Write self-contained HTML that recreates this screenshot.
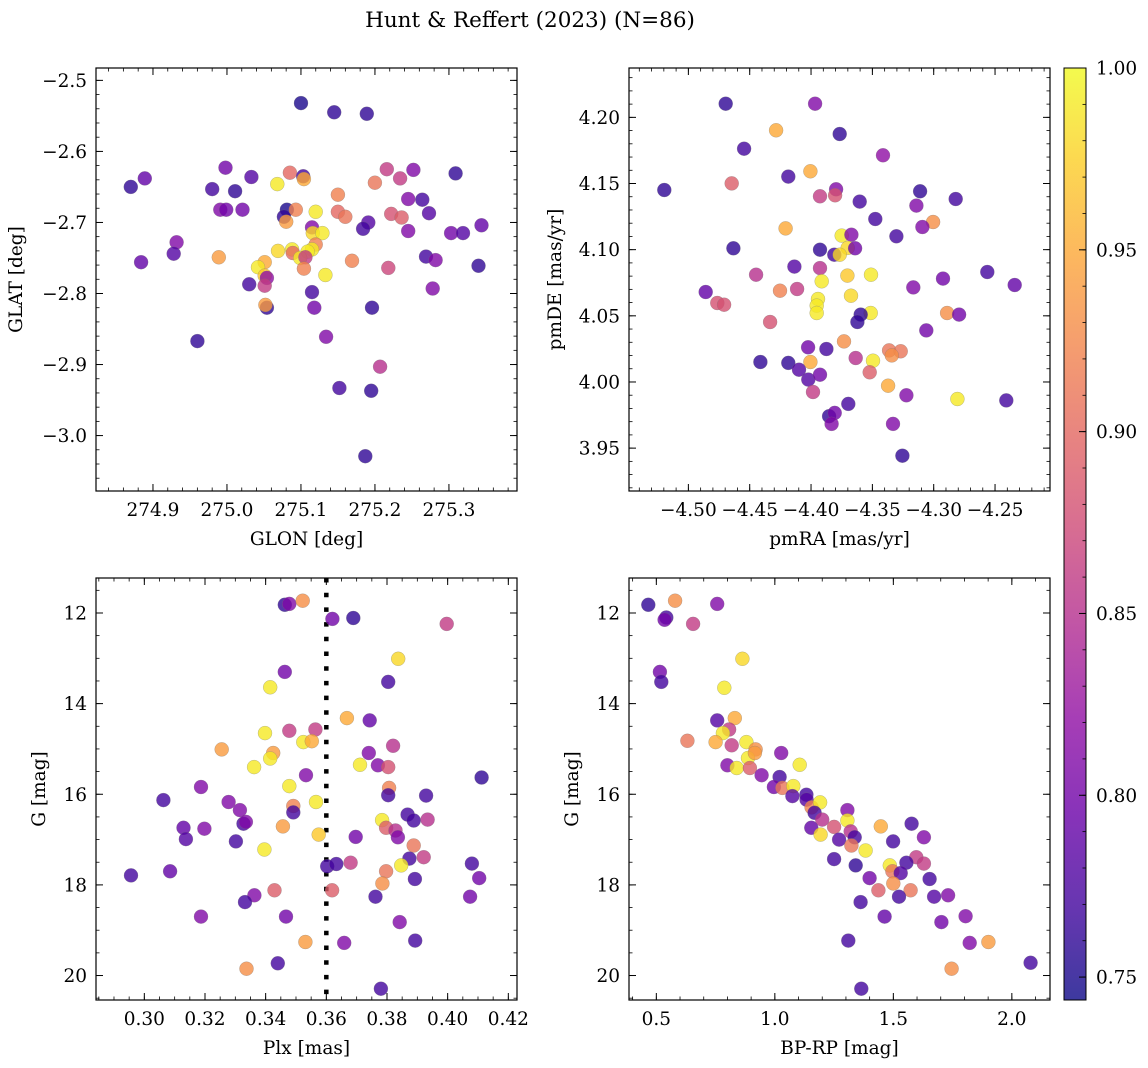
<!DOCTYPE html>
<html><head><meta charset="utf-8"><style>
html,body{margin:0;padding:0;background:#fff;}
svg{display:block;font-family:"DejaVu Serif","Liberation Serif",serif;}
</style></head><body>
<svg id="fig" width="1148" height="1068" viewBox="0 0 1148 1068" xmlns="http://www.w3.org/2000/svg">
<text x="530" y="27" font-size="21.5" text-anchor="middle">Hunt &amp; Reffert (2023) (N=86)</text>
</svg>
<script>
// ---- Panel 1: GLON / GLAT ----
const p1Glon=[275.100,275.145,275.189,274.870,274.889,274.998,274.980,275.011,275.033,274.991,274.999,275.021,275.068,275.085,275.103,275.104,275.081,275.077,275.093,275.080,275.120,275.150,275.150,275.160,275.200,275.216,275.234,275.252,275.309,275.245,275.264,275.273,275.222,275.236,275.191,275.184,275.245,275.303,275.319,275.344,275.115,275.116,275.129,275.120,275.115,275.109,275.069,275.088,275.089,275.099,275.106,275.104,275.169,275.133,275.218,275.269,275.282,275.340,275.278,274.932,274.928,274.884,274.989,275.051,275.042,275.051,275.054,275.051,275.030,275.054,275.052,275.115,275.118,275.196,275.134,275.207,274.960,275.152,275.195,275.187];
const p1Glat=[-2.532,-2.545,-2.547,-2.650,-2.638,-2.623,-2.653,-2.656,-2.636,-2.682,-2.682,-2.682,-2.646,-2.630,-2.635,-2.639,-2.682,-2.692,-2.682,-2.699,-2.685,-2.661,-2.685,-2.692,-2.644,-2.625,-2.638,-2.626,-2.631,-2.667,-2.668,-2.687,-2.688,-2.693,-2.700,-2.709,-2.712,-2.715,-2.715,-2.704,-2.707,-2.715,-2.715,-2.731,-2.738,-2.741,-2.740,-2.738,-2.743,-2.750,-2.749,-2.765,-2.754,-2.774,-2.764,-2.748,-2.753,-2.761,-2.793,-2.728,-2.744,-2.756,-2.749,-2.756,-2.763,-2.775,-2.778,-2.789,-2.787,-2.820,-2.816,-2.798,-2.820,-2.820,-2.861,-2.903,-2.867,-2.933,-2.937,-3.029];
const p1Prob=[.75,.76,.76,.76,.79,.80,.77,.76,.78,.81,.80,.80,.99,.90,.77,.95,.75,.76,.92,.94,.99,.92,.90,.91,.91,.86,.86,.81,.76,.81,.77,.78,.88,.89,.78,.77,.81,.80,.78,.79,.81,.98,.99,.92,.99,.99,.98,.99,.90,.99,.86,.92,.92,.99,.87,.77,.81,.76,.81,.81,.78,.79,.94,.95,.99,.97,.82,.86,.77,.76,.94,.77,.80,.76,.81,.85,.76,.77,.76,.76];
// ---- Panel 2: pmRA / pmDE ----
const p2PmRA=[-4.4696,-4.3967,-4.4285,-4.3766,-4.4546,-4.3413,-4.5196,-4.4647,-4.4185,-4.4005,-4.3796,-4.3927,-4.3804,-4.3603,-4.3111,-4.2821,-4.3141,-4.3476,-4.3005,-4.3092,-4.4207,-4.3304,-4.4633,-4.3927,-4.3750,-4.3671,-4.3701,-4.3641,-4.3810,-4.3766,-4.4136,-4.3927,-4.4448,-4.3913,-4.3704,-4.3511,-4.2563,-4.2924,-4.2340,-4.4859,-4.4253,-4.4114,-4.3674,-4.3166,-4.4764,-4.4709,-4.3943,-4.3954,-4.3954,-4.3514,-4.3595,-4.3622,-4.2891,-4.2793,-4.4334,-4.3060,-4.4024,-4.3875,-4.3731,-4.3636,-4.3364,-4.3269,-4.3342,-4.3495,-4.4413,-4.4185,-4.4005,-4.4098,-4.3522,-4.4022,-4.3927,-4.3984,-4.3372,-4.3223,-4.2807,-4.2408,-4.3696,-4.3853,-4.3807,-4.3832,-4.3332,-4.3255];
const p2PmDE=[4.2103,4.2103,4.1902,4.1874,4.1763,4.1713,4.1451,4.1501,4.1552,4.1592,4.1456,4.1403,4.1411,4.1363,4.1441,4.1383,4.1333,4.1232,4.1209,4.1171,4.1161,4.1101,4.1010,4.1000,4.1106,4.1113,4.1013,4.1010,4.0962,4.0962,4.0872,4.0861,4.0811,4.0761,4.0804,4.0811,4.0831,4.0781,4.0733,4.0680,4.0690,4.0703,4.0652,4.0715,4.0597,4.0584,4.0627,4.0577,4.0521,4.0521,4.0509,4.0453,4.0521,4.0509,4.0453,4.0390,4.0262,4.0249,4.0307,4.0181,4.0239,4.0232,4.0201,4.0161,4.0151,4.0144,4.0151,4.0093,4.0073,4.0018,4.0055,3.9924,3.9972,3.9899,3.9871,3.9861,3.9834,3.9741,3.9766,3.9683,3.9683,3.9443];
const p2Prob=[.76,.81,.95,.76,.77,.82,.76,.89,.77,.95,.81,.86,.88,.77,.76,.77,.81,.77,.93,.81,.95,.77,.76,.76,.99,.81,.98,.80,.77,.98,.78,.85,.85,.99,.97,.99,.77,.80,.79,.79,.92,.86,.98,.81,.88,.88,.99,.99,.99,.99,.76,.76,.93,.80,.88,.80,.80,.77,.93,.85,.91,.91,.93,.99,.76,.76,.95,.78,.89,.78,.80,.86,.95,.81,.99,.77,.77,.76,.80,.81,.81,.76];
// ---- Panel 3: Plx / G ----
const p3Plx=[0.3463,0.3478,0.3522,0.3620,0.3689,0.3997,0.3837,0.3463,0.3804,0.3415,0.3668,0.3743,0.3398,0.3478,0.3564,0.3524,0.3552,0.3255,0.3425,0.3415,0.3362,0.3740,0.3820,0.3711,0.3770,0.3804,0.3533,0.3478,0.3807,0.3804,0.3929,0.4112,0.3187,0.3063,0.3278,0.3315,0.3491,0.3491,0.3566,0.3129,0.3198,0.3137,0.3327,0.3335,0.3457,0.3575,0.3302,0.3396,0.3868,0.3888,0.3934,0.3784,0.3797,0.3828,0.3836,0.3697,0.3888,0.3874,0.3921,0.3847,0.3603,0.3633,0.3680,0.3797,0.4080,0.4104,0.3892,0.3785,0.2956,0.3085,0.3429,0.3619,0.3363,0.3332,0.3762,0.4074,0.3187,0.3467,0.3842,0.3531,0.3659,0.3893,0.3337,0.3440,0.3780];
const p3G=[11.82,11.80,11.73,12.13,12.11,12.24,13.01,13.30,13.52,13.64,14.32,14.37,14.65,14.60,14.57,14.85,14.83,15.01,15.09,15.21,15.40,15.09,14.93,15.35,15.36,15.40,15.58,15.82,15.86,16.02,16.03,15.63,15.84,16.13,16.17,16.35,16.26,16.40,16.17,16.74,16.76,16.99,16.65,16.61,16.71,16.89,17.04,17.22,16.45,16.58,16.56,16.57,16.74,16.80,16.95,16.94,17.13,17.42,17.39,17.57,17.59,17.54,17.51,17.70,17.53,17.85,17.87,17.97,17.79,17.70,18.12,18.12,18.23,18.38,18.26,18.26,18.70,18.70,18.82,19.26,19.28,19.23,19.85,19.73,20.29];
const p3Prob=[.76,.81,.93,.80,.76,.86,.98,.80,.77,.99,.95,.79,.99,.86,.86,.99,.95,.94,.94,.99,.99,.81,.85,.99,.81,.88,.81,.99,.92,.77,.77,.76,.81,.77,.81,.81,.92,.77,.99,.79,.81,.78,.77,.81,.94,.97,.77,.99,.77,.77,.85,.99,.89,.85,.81,.80,.91,.77,.86,.99,.77,.77,.86,.91,.77,.80,.77,.93,.77,.79,.89,.89,.81,.77,.77,.80,.81,.80,.81,.94,.81,.77,.93,.77,.77];
const plxMean=[0.36];
// ---- Panel 4: BP-RP / G ----
const p4Color=[0.466,0.579,0.757,0.542,0.535,0.655,0.863,0.515,0.521,0.787,0.831,0.757,0.807,0.781,0.631,0.750,0.880,0.818,0.919,1.027,0.887,0.916,1.105,0.800,0.839,0.895,0.944,1.020,0.996,1.032,1.078,1.074,1.133,1.134,1.155,1.191,1.168,1.200,1.154,1.193,1.250,1.306,1.306,1.320,1.271,1.337,1.323,1.383,1.447,1.577,1.629,1.499,1.250,1.341,1.597,1.629,1.555,1.485,1.496,1.531,1.400,1.653,1.500,1.437,1.573,1.524,1.672,1.731,1.362,1.463,1.805,1.703,1.310,1.822,1.901,1.746,2.079,1.365];
const p4G=[11.82,11.73,11.80,12.10,12.15,12.24,13.01,13.30,13.52,13.65,14.32,14.37,14.57,14.65,14.82,14.85,14.85,14.92,15.01,15.09,15.20,15.09,15.35,15.36,15.42,15.42,15.58,15.62,15.84,15.86,15.82,16.04,16.01,16.12,16.29,16.18,16.41,16.56,16.74,16.89,16.72,16.35,16.58,16.82,17.00,16.95,17.13,17.24,16.71,16.65,16.95,17.04,17.43,17.57,17.39,17.53,17.51,17.57,17.70,17.74,17.85,17.87,17.97,18.12,18.12,18.26,18.26,18.23,18.38,18.70,18.69,18.82,19.23,19.28,19.26,19.85,19.72,20.29];
const p4Prob=[.76,.93,.81,.77,.80,.86,.98,.80,.77,.99,.95,.78,.86,.99,.91,.95,.99,.86,.93,.81,.99,.94,.99,.81,.99,.89,.81,.77,.80,.91,.99,.78,.77,.78,.92,.99,.77,.85,.79,.98,.88,.81,.99,.85,.78,.77,.91,.99,.95,.77,.81,.77,.77,.76,.86,.86,.77,.99,.91,.78,.80,.77,.93,.89,.91,.77,.78,.81,.77,.79,.81,.80,.77,.81,.94,.93,.77,.77];
// ---- ticks ----
const p1XTicks=[274.9,275.0,275.1,275.2,275.3], p1XLabels=["274.9","275.0","275.1","275.2","275.3"];
const p1YTicks=[-2.5,-2.6,-2.7,-2.8,-2.9,-3.0], p1YLabels=["−2.5","−2.6","−2.7","−2.8","−2.9","−3.0"];
const p2XTicks=[-4.50,-4.45,-4.40,-4.35,-4.30,-4.25], p2XLabels=["−4.50","−4.45","−4.40","−4.35","−4.30","−4.25"];
const p2YTicks=[3.95,4.00,4.05,4.10,4.15,4.20], p2YLabels=["3.95","4.00","4.05","4.10","4.15","4.20"];
const p3XTicks=[0.30,0.32,0.34,0.36,0.38,0.40,0.42], p3XLabels=["0.30","0.32","0.34","0.36","0.38","0.40","0.42"];
const gTicks=[12,14,16,18,20], gLabels=["12","14","16","18","20"];
const p4XTicks=[0.5,1.0,1.5,2.0], p4XLabels=["0.5","1.0","1.5","2.0"];
const cbTicks=[0.75,0.80,0.85,0.90,0.95,1.00], cbLabels=["0.75","0.80","0.85","0.90","0.95","1.00"];

const NS="http://www.w3.org/2000/svg";
const svg=document.getElementById('fig');
const VMIN=0.7437, VMAX=1.0;
const plasma=[[13,8,135],[65,4,157],[106,0,168],[143,13,164],[177,42,144],[204,71,120],[225,100,98],[242,132,75],[252,166,54],[252,206,37],[240,249,33]];
function cmap(v){let t=Math.max(0,Math.min(1,(v-VMIN)/(VMAX-VMIN)))*10;let i=Math.min(9,Math.floor(t));let f=t-i;const a=plasma[i],b=plasma[i+1];return `rgb(${Math.round(a[0]+(b[0]-a[0])*f)},${Math.round(a[1]+(b[1]-a[1])*f)},${Math.round(a[2]+(b[2]-a[2])*f)})`;}
function mk(tag,attrs,parent){const e=document.createElementNS(NS,tag);for(const k in attrs)e.setAttribute(k,attrs[k]);(parent||svg).appendChild(e);return e;}
const TFS=18.5, LFS=18.5;

function panel(cfg){
  const g=mk('g',{});
  
  
  const sx=v=>cfg.x0+(v-cfg.xmin)/(cfg.xmax-cfg.xmin)*cfg.w;
  const sy=v=>cfg.y0+(v-cfg.ytop)/(cfg.ybot-cfg.ytop)*cfg.h;
  if(cfg.vline!==undefined){
    const l=mk('line',{x1:sx(cfg.vline),x2:sx(cfg.vline),y1:cfg.y0,y2:cfg.y0+cfg.h,stroke:'#000','stroke-width':4.5,'stroke-dasharray':'4.5 10.2'},g);
    
    
  }
  for(let i=0;i<cfg.xs.length;i++){
    const c=mk('circle',{cx:sx(cfg.xs[i]).toFixed(1),cy:sy(cfg.ys[i]).toFixed(1),r:7,fill:cmap(cfg.cs[i]),'fill-opacity':0.8,stroke:'#777','stroke-opacity':0.5,'stroke-width':0.5},g);
    
    
  }
  const fr=mk('rect',{x:cfg.x0,y:cfg.y0,width:cfg.w,height:cfg.h,fill:'none',stroke:'#000','stroke-width':1.2},g);
  
  
  const eps=1e-9;
  const lo=Math.min(cfg.xmin,cfg.xmax),hi=Math.max(cfg.xmin,cfg.xmax);
  for(let v=Math.ceil(lo/cfg.xminor)*cfg.xminor;v<=hi+eps;v+=cfg.xminor){const x=sx(v);
    mk('line',{x1:x,x2:x,y1:cfg.y0+cfg.h,y2:cfg.y0+cfg.h-3.5,stroke:'#000','stroke-width':0.8},g);
    mk('line',{x1:x,x2:x,y1:cfg.y0,y2:cfg.y0+3.5,stroke:'#000','stroke-width':0.8},g);}
  const ylo=Math.min(cfg.ytop,cfg.ybot),yhi=Math.max(cfg.ytop,cfg.ybot);
  for(let v=Math.ceil(ylo/cfg.yminor)*cfg.yminor;v<=yhi+eps;v+=cfg.yminor){const y=sy(v);
    mk('line',{x1:cfg.x0,x2:cfg.x0+3.5,y1:y,y2:y,stroke:'#000','stroke-width':0.8},g);
    mk('line',{x1:cfg.x0+cfg.w,x2:cfg.x0+cfg.w-3.5,y1:y,y2:y,stroke:'#000','stroke-width':0.8},g);}
  cfg.xt.forEach((v,i)=>{const x=sx(v);
    mk('line',{x1:x,x2:x,y1:cfg.y0+cfg.h,y2:cfg.y0+cfg.h-7,stroke:'#000','stroke-width':1},g);
    mk('line',{x1:x,x2:x,y1:cfg.y0,y2:cfg.y0+7,stroke:'#000','stroke-width':1},g);
    const t=mk('text',{x:x,y:cfg.y0+cfg.h+25,'font-size':TFS,'text-anchor':'middle'},g);t.textContent=cfg.xl[i];
    
    });
  cfg.yt.forEach((v,i)=>{const y=sy(v);
    mk('line',{x1:cfg.x0,x2:cfg.x0+7,y1:y,y2:y,stroke:'#000','stroke-width':1},g);
    mk('line',{x1:cfg.x0+cfg.w,x2:cfg.x0+cfg.w-7,y1:y,y2:y,stroke:'#000','stroke-width':1},g);
    const t=mk('text',{x:cfg.x0-9,y:y+6.5,'font-size':TFS,'text-anchor':'end'},g);t.textContent=cfg.yl[i];
    
    });
  const xt=mk('text',{x:cfg.x0+cfg.w/2,y:cfg.y0+cfg.h+54,'font-size':LFS,'text-anchor':'middle'},g);xt.textContent=cfg.xtitle;
  
  
  const yt=mk('text',{x:0,y:0,'font-size':LFS,'text-anchor':'middle',transform:`translate(${cfg.ytx},${cfg.y0+cfg.h/2}) rotate(-90)`},g);yt.textContent=cfg.ytitle;
  
  
}
panel({name:'panel-sky',x0:96,y0:68,w:421,h:423,xmin:274.823,xmax:275.392,ytop:-2.4826,ybot:-3.078,xs:p1Glon,ys:p1Glat,cs:p1Prob,xt:p1XTicks,xl:p1XLabels,yt:p1YTicks,yl:p1YLabels,xminor:0.02,yminor:0.02,xtitle:'GLON [deg]',ytitle:'GLAT [deg]',ytx:22});
panel({name:'panel-proper-motion',x0:629,y0:68,w:421,h:423,xmin:-4.5484,xmax:-4.2052,ytop:4.2373,ybot:3.9176,xs:p2PmRA,ys:p2PmDE,cs:p2Prob,xt:p2XTicks,xl:p2XLabels,yt:p2YTicks,yl:p2YLabels,xminor:0.01,yminor:0.01,xtitle:'pmRA [mas/yr]',ytitle:'pmDE [mas/yr]',ytx:561});
panel({name:'panel-parallax',x0:96,y0:578,w:421,h:422,xmin:0.28407,xmax:0.42286,ytop:11.228,ybot:20.54,xs:p3Plx,ys:p3G,cs:p3Prob,xt:p3XTicks,xl:p3XLabels,yt:gTicks,yl:gLabels,xminor:0.005,yminor:0.5,xtitle:'Plx [mas]',ytitle:'G [mag]',ytx:45,vline:plxMean[0]});
panel({name:'panel-cmd',x0:629,y0:578,w:421,h:422,xmin:0.3847,xmax:2.161,ytop:11.228,ybot:20.54,xs:p4Color,ys:p4G,cs:p4Prob,xt:p4XTicks,xl:p4XLabels,yt:gTicks,yl:gLabels,xminor:0.1,yminor:0.5,xtitle:'BP-RP [mag]',ytitle:'G [mag]',ytx:578});

// colorbar
(function(){
  const cb=mk('g',{});
  
  
  const X=1064,W=22,Y0=68,Y1=1000;
  const defs=mk('defs',{},cb);
  const lg=mk('linearGradient',{id:'cbg',x1:0,y1:1,x2:0,y2:0},defs);
  for(let i=0;i<=20;i++){const v=VMIN+(VMAX-VMIN)*i/20;mk('stop',{offset:(i/20),'stop-color':cmap(v),'stop-opacity':0.8},lg);}
  mk('rect',{x:X,y:Y0,width:W,height:Y1-Y0,fill:'url(#cbg)',stroke:'#000','stroke-width':1},cb);
  const sy=v=>Y1-(v-VMIN)/(VMAX-VMIN)*(Y1-Y0);
  for(let v=0.75;v<=1.0001;v+=0.01){const y=sy(v);mk('line',{x1:X+W,x2:X+W-3.5,y1:y,y2:y,stroke:'#000','stroke-width':0.8},cb);}
  cbTicks.forEach((v,i)=>{const y=sy(v);
    mk('line',{x1:X+W,x2:X+W-7,y1:y,y2:y,stroke:'#000','stroke-width':1},cb);
    const t=mk('text',{x:X+W+10,y:y+6.5,'font-size':TFS},cb);t.textContent=cbLabels[i];
    
    });
})();
</script>
</body></html>
